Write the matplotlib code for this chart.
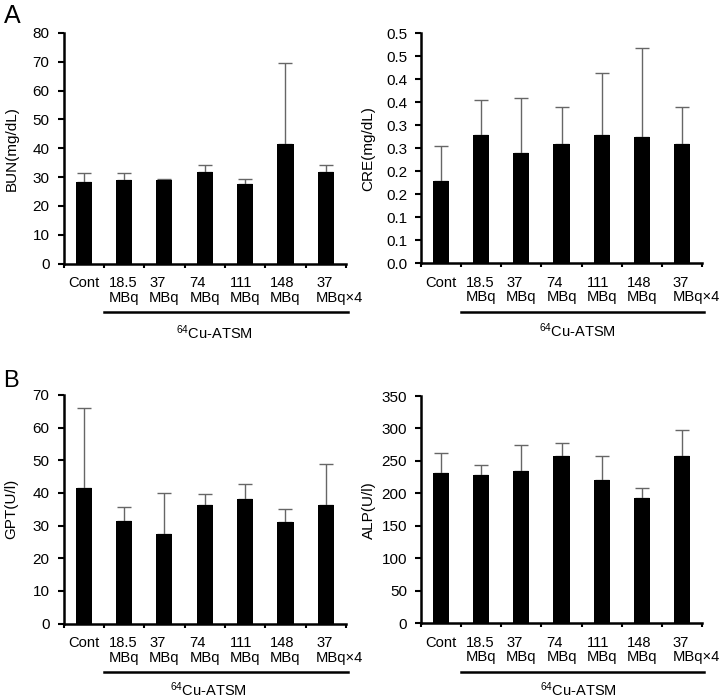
import matplotlib
matplotlib.use("Agg")
import matplotlib.pyplot as plt
import matplotlib.transforms as mtransforms
import numpy as np

plt.rcParams['font.family'] = ['Liberation Sans', 'DejaVu Sans']
plt.rcParams['mathtext.fontset'] = 'custom'
plt.rcParams['mathtext.rm'] = 'Liberation Sans'
plt.rcParams['mathtext.default'] = 'regular'

categories = ["Cont", "18.5\nMBq", "37\nMBq", "74\nMBq", "111\nMBq", "148\nMBq", "37\nMBq\u00d74"]

bun_mean = [28.4, 29.0, 28.9, 31.7, 27.7, 41.5, 31.7]
bun_err = [3.1, 2.5, 0.5, 2.6, 1.5, 28.0, 2.5]

cre_mean = [0.180, 0.280, 0.240, 0.259, 0.280, 0.275, 0.259]
cre_err = [0.075, 0.076, 0.120, 0.081, 0.133, 0.192, 0.081]

gpt_mean = [41.6, 31.3, 27.3, 36.3, 38.2, 31.0, 36.3]
gpt_err = [24.5, 4.4, 12.7, 3.5, 4.6, 4.2, 12.7]

alp_mean = [231, 228, 234, 258, 220, 193, 258]
alp_err = [32, 15, 40, 19, 37, 15, 40]

bun_ticks = [0, 10, 20, 30, 40, 50, 60, 70, 80]
cre_ticks = [0.0, 0.05, 0.10, 0.15, 0.20, 0.25, 0.30, 0.35, 0.40, 0.45, 0.50]
cre_ticklabels = ["0.0", "0.1", "0.1", "0.2", "0.2", "0.3", "0.3", "0.4", "0.4", "0.5", "0.5"]
gpt_ticks = [0, 10, 20, 30, 40, 50, 60, 70]
alp_ticks = [0, 50, 100, 150, 200, 250, 300, 350]

group_label = "$^{64}$Cu-ATSM"

fig = plt.figure(figsize=(7.22, 7.0), dpi=100)

W, H = 722.0, 700.0
def rect(x0, x1, ytop, ybot):
    return [x0 / W, 1 - ybot / H, (x1 - x0) / W, (ybot - ytop) / H]

panels = [
    (rect(63.5, 346, 33, 263.5), bun_mean, bun_err, bun_ticks, None, "BUN(mg/dL)", 214, 11.5, -69),
    (rect(421, 702, 33.3, 263.3), cre_mean, cre_err, cre_ticks, cre_ticklabels, "CRE(mg/dL)", 577, 368, -67),
    (rect(63.5, 346, 395, 623.5), gpt_mean, gpt_err, gpt_ticks, None, "GPT(U/l)", 208, 11, -66),
    (rect(421, 702, 396, 623.3), alp_mean, alp_err, alp_ticks, None, "ALP(U/l)", 578, 369, -66),
]

x = np.arange(len(categories))
for (r, means, errs, yt, ytl, ylab, lblx, ylx, lbly) in panels:
    ax = fig.add_axes(r)
    ax.bar(x, means, width=0.4, color='black', zorder=3)
    ax.errorbar(x, means, yerr=[np.zeros(len(errs)), errs], fmt='none',
                ecolor='#666666', elinewidth=1.0, capsize=5.2, capthick=1.0, zorder=2)
    ax.set_xlim(-0.5, 6.5)
    ax.set_ylim(yt[0], yt[-1])
    ax.set_yticks(yt)
    if ytl is not None:
        ax.set_yticklabels(ytl)
    ax.set_xticks(x)
    ax.set_xticklabels(categories, fontsize=10.6, linespacing=1.05, va='top',
                       multialignment='left')
    ax.set_xticks(np.arange(-0.5, 7.0, 1.0), minor=True)
    ax.tick_params(axis='x', which='major', length=0, pad=9)
    ax.tick_params(axis='x', which='minor', length=3, width=1.5, direction='out')
    ax.tick_params(axis='y', length=4, width=1.5, direction='out', labelsize=11, pad=6)
    for s in ['top', 'right']:
        ax.spines[s].set_visible(False)
    for s in ['left', 'bottom']:
        ax.spines[s].set_linewidth(1.8)
    ax.set_ylabel(ylab, fontsize=11, va='center')
    bb = ax.get_position()
    ax_w_px = bb.width * W
    ax.yaxis.set_label_coords(-(bb.x0 * W - ylx) / ax_w_px, 0.5)
    # shift last label to the right like the original
    last = ax.get_xticklabels()[-1]
    last.set_transform(last.get_transform() + mtransforms.ScaledTranslation(0.14, 0, fig.dpi_scale_trans))
    # group bracket line and label
    ax_h_px = bb.height * H
    line_y = -48.5 / ax_h_px
    ax.plot([0.5, 6.55], [line_y, line_y], color='black', lw=1.8,
            transform=ax.get_xaxis_transform(), clip_on=False)
    ax0_px = bb.x0 * W
    unit = ax_w_px / 7.0
    lx = (lblx - ax0_px) / unit - 0.5
    ax.text(lx, lbly / ax_h_px, group_label, transform=ax.get_xaxis_transform(),
            ha='center', va='center', fontsize=10.5)

fig.text(4 / W, 1 - 4 / H, "A", fontsize=18, ha='left', va='top')
fig.text(3 / W, 1 - 370 / H, "B", fontsize=17, ha='left', va='top')

fig.savefig("out.png", dpi=100)
